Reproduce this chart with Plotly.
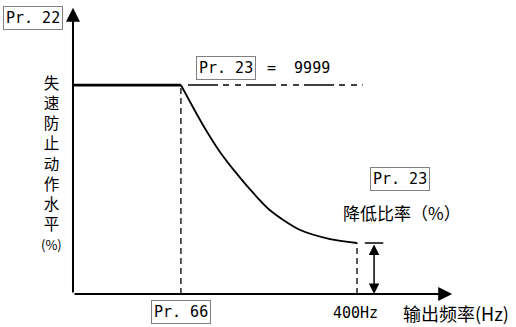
import plotly.graph_objects as go

# stall prevention level vs output frequency (x in Hz, y in % of Pr.22)
freq = [0, 152, 183, 207, 232, 249, 277, 320, 362, 400]
level = [100, 100, 80.9, 68.0, 57.0, 50.2, 40.2, 30.6, 26.3, 24.4]
f_pr66 = 152
f_max = 400
level_max = 100
level_end = 24.4
dashdot_x = [162, 408]
axis_x_end = 534
axis_y_end = 137
arrow_x = 424
cap_x = [411, 437]

cjk = "Noto Sans CJK SC"
mono = "DejaVu Sans Mono"
box_col = "#808080"

fig = go.Figure()

# main curve
fig.add_trace(go.Scatter(x=freq[:2], y=level[:2], mode="lines",
                         line=dict(color="black", width=2.8)))
fig.add_trace(go.Scatter(x=freq[1:], y=level[1:], mode="lines",
                         line=dict(color="black", width=1.8, shape="spline", smoothing=0.8)))

# Pr.23 = 9999 dash-dot line
fig.add_trace(go.Scatter(x=dashdot_x, y=[level_max, level_max], mode="lines",
                         line=dict(color="black", width=1.5,
                                   dash="30px,5px,6px,6px,6px,5px")))

# dashed verticals
fig.add_trace(go.Scatter(x=[f_pr66, f_pr66], y=[0, level_max], mode="lines",
                         line=dict(color="black", width=1.3, dash="6px,4px")))
fig.add_trace(go.Scatter(x=[f_max, f_max], y=[0, level_end], mode="lines",
                         line=dict(color="black", width=1.3, dash="6px,4px")))

# cap of the reduction arrow
fig.add_trace(go.Scatter(x=cap_x, y=[level_end, level_end], mode="lines",
                         line=dict(color="black", width=1.5)))

arrow = dict(text="", showarrow=True, axref="x", ayref="y", xref="x", yref="y",
             arrowhead=2, arrowsize=1.4, arrowcolor="black")
# axes
fig.add_annotation(x=axis_x_end, y=0, ax=0, ay=0, arrowwidth=2, **arrow)
fig.add_annotation(x=0, y=axis_y_end, ax=0, ay=0, arrowwidth=2, **arrow)
# reduction ratio arrow
fig.add_annotation(x=arrow_x, y=0, ax=arrow_x, ay=level_end, arrowside="end+start",
                   startarrowhead=2, startarrowsize=1.4, arrowwidth=1.5, **arrow)

boxed = dict(showarrow=False, bordercolor=box_col, borderwidth=1, borderpad=2,
             bgcolor="white", font=dict(family=mono, size=15, color="black"))
latin = dict(showarrow=False, font=dict(family=mono, size=15, color="black"))
plain = dict(showarrow=False, font=dict(family=cjk, size=17, color="black"))

fig.add_annotation(x=-56, y=132, text="Pr. 22", **boxed)
fig.add_annotation(x=215.5, y=108, text="Pr. 23", **boxed)
fig.add_annotation(x=317, y=108, text="=  9999", **latin)
fig.add_annotation(x=460.6, y=55, text="Pr. 23", **boxed)
fig.add_annotation(x=463, y=38.8, text="降低比率（%）", **plain)
fig.add_annotation(x=f_pr66, y=-8.6, text="Pr. 66", **boxed)
fig.add_annotation(x=f_max - 2, y=-9.1, text="400Hz", **latin)
fig.add_annotation(x=540, y=-9.1, text="输出频率(Hz)",
                   showarrow=False, font=dict(family=cjk, size=18, color="black"))
fig.add_annotation(x=-29.6, y=62.7,
                   text="失<br>速<br>防<br>止<br>动<br>作<br>水<br>平<br><span style='font-size:13px'>(%)</span>",
                   showarrow=False, font=dict(family=cjk, size=15.5, color="black"))

fig.update_layout(
    width=516, height=327,
    margin=dict(l=0, r=0, t=0, b=0),
    paper_bgcolor="white", plot_bgcolor="white",
    showlegend=False,
    xaxis=dict(range=[-102.8, 623.9], visible=False, fixedrange=True),
    yaxis=dict(range=[-15.8, 140.7], visible=False, fixedrange=True),
)

fig.write_html("out.html", config={"displayModeBar": False},
               post_script="document.body.style.margin='0';")
